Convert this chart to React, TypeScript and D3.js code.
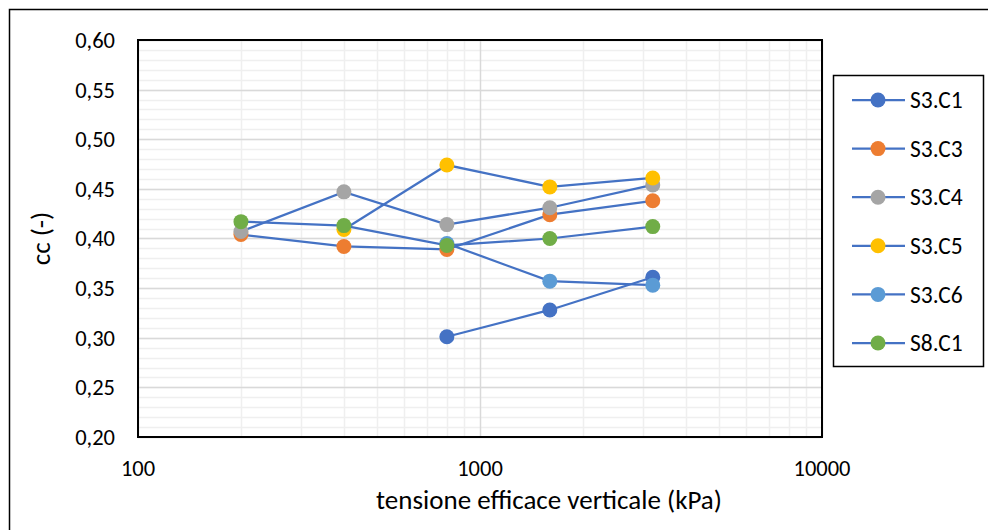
import React, { useEffect, useRef } from 'react';
import * as d3 from 'd3';

// pressure steps (kPa)
const pressures = [200, 400, 800, 1600, 3200];

const seriesNames = ['S3.C1', 'S3.C3', 'S3.C4', 'S3.C5', 'S3.C6', 'S8.C1'];
const seriesColors = ['#4472C4', '#ED7D31', '#A5A5A5', '#FFC000', '#5B9BD5', '#70AD47'];

// cc values, null where a sample has no reading
const s3c1 = [null, null, 0.301, 0.328, 0.361];
const s3c3 = [0.404, 0.392, 0.389, 0.424, 0.438];
const s3c4 = [0.407, 0.447, 0.414, 0.431, 0.454];
const s3c5 = [null, 0.409, 0.474, 0.452, 0.461];
const s3c6 = [null, null, 0.395, 0.357, 0.353];
const s8c1 = [0.417, 0.413, 0.393, 0.400, 0.412];

const yTicks = [0.2, 0.25, 0.3, 0.35, 0.4, 0.45, 0.5, 0.55, 0.6];
const xTicks = [100, 1000, 10000];

const App = () => {
  const svgRef = useRef<SVGSVGElement>(null);

  useEffect(() => {
    const width = 988;
    const height = 530;
    const margin = { left: 138, right: 166, top: 40, bottom: 93 };
    const font = 'Calibri, Carlito, Lato, "Open Sans", sans-serif';

    const svg = d3.select(svgRef.current)
      .attr('width', width)
      .attr('height', height);
    svg.selectAll('*').remove();

    svg.append('rect')
      .attr('width', width).attr('height', height).attr('fill', '#fff');
    // outer chart frame
    svg.append('rect')
      .attr('x', 9.5).attr('y', 9.5)
      .attr('width', width).attr('height', height)
      .attr('fill', 'none').attr('stroke', '#000').attr('stroke-width', 1.5);

    const x = d3.scaleLog()
      .domain([100, 10000])
      .range([margin.left, width - margin.right]);
    const y = d3.scaleLinear()
      .domain([0.2, 0.6])
      .range([height - margin.bottom, margin.top]);

    const g = svg.append('g');

    // minor grid
    const minorY = d3.range(20, 61).map(v => v / 100);
    g.selectAll('line.hminor')
      .data(minorY)
      .enter().append('line')
      .attr('x1', x(100)).attr('x2', x(10000))
      .attr('y1', d => Math.round(y(d)) + 0.5).attr('y2', d => Math.round(y(d)) + 0.5)
      .attr('stroke', '#EFEFEF').attr('stroke-width', 1.5);
    const minorX = [2, 3, 4, 5, 6, 7, 8, 9].flatMap(k => [k * 100, k * 1000]);
    g.selectAll('line.vminor')
      .data(minorX)
      .enter().append('line')
      .attr('x1', d => Math.round(x(d)) + 0.5).attr('x2', d => Math.round(x(d)) + 0.5)
      .attr('y1', y(0.2)).attr('y2', y(0.6))
      .attr('stroke', '#EFEFEF').attr('stroke-width', 1.5);

    // major grid
    g.selectAll('line.hmajor')
      .data(yTicks)
      .enter().append('line')
      .attr('x1', x(100)).attr('x2', x(10000))
      .attr('y1', d => Math.round(y(d)) + 0.5).attr('y2', d => Math.round(y(d)) + 0.5)
      .attr('stroke', '#D9D9D9').attr('stroke-width', 1.5);
    g.selectAll('line.vmajor')
      .data(xTicks)
      .enter().append('line')
      .attr('x1', d => Math.round(x(d)) + 0.5).attr('x2', d => Math.round(x(d)) + 0.5)
      .attr('y1', y(0.2)).attr('y2', y(0.6))
      .attr('stroke', '#D9D9D9').attr('stroke-width', 1.5);

    // plot frame
    g.append('rect')
      .attr('x', x(100)).attr('y', y(0.6))
      .attr('width', x(10000) - x(100)).attr('height', y(0.2) - y(0.6))
      .attr('fill', 'none').attr('stroke', '#000').attr('stroke-width', 2);

    // tick labels
    g.selectAll('text.ytick')
      .data(yTicks)
      .enter().append('text')
      .attr('x', 115)
      .attr('y', d => y(d))
      .attr('dy', '0.35em')
      .attr('text-anchor', 'end')
      .attr('font-family', font)
      .attr('font-size', 22.5)
      .attr('fill', '#000')
      .text(d => d3.format('.2f')(d).replace('.', ','));
    g.selectAll('text.xtick')
      .data(xTicks)
      .enter().append('text')
      .attr('x', d => x(d))
      .attr('y', 476)
      .attr('text-anchor', 'middle')
      .attr('font-family', font)
      .attr('font-size', 22.5)
      .attr('fill', '#000')
      .text(d => String(d));

    // axis titles
    svg.append('text')
      .attr('x', 549).attr('y', 509)
      .attr('text-anchor', 'middle')
      .attr('font-family', font).attr('font-size', 27)
      .text('tensione efficace verticale (kPa)');
    svg.append('text')
      .attr('transform', `translate(50, ${y(0.4)}) rotate(-90)`)
      .attr('text-anchor', 'middle')
      .attr('font-family', font).attr('font-size', 27)
      .text('cc (-)');

    const allSeries = [s3c1, s3c3, s3c4, s3c5, s3c6, s8c1].map((vals, i) => ({
      name: seriesNames[i],
      color: seriesColors[i],
      points: pressures
        .map((p, j) => ({ p, v: vals[j] }))
        .filter(d => d.v !== null) as { p: number; v: number }[],
    }));

    const line = d3.line<{ p: number; v: number }>()
      .x(d => x(d.p))
      .y(d => y(d.v));

    allSeries.forEach(s => {
      g.append('path')
        .datum(s.points)
        .attr('d', line)
        .attr('fill', 'none')
        .attr('stroke', '#4472C4')
        .attr('stroke-width', 2.25);
      g.selectAll(null)
        .data(s.points)
        .enter().append('circle')
        .attr('cx', d => x(d.p))
        .attr('cy', d => y(d.v))
        .attr('r', 7.5)
        .attr('fill', s.color);
    });

    // legend
    const legend = svg.append('g');
    legend.append('rect')
      .attr('x', 833.5).attr('y', 75.5)
      .attr('width', 150).attr('height', 291)
      .attr('fill', '#fff').attr('stroke', '#000').attr('stroke-width', 1.5);
    allSeries.forEach((s, i) => {
      const ly = 100 + i * 48.6;
      legend.append('line')
        .attr('x1', 852).attr('x2', 905)
        .attr('y1', ly).attr('y2', ly)
        .attr('stroke', '#4472C4').attr('stroke-width', 2.25);
      legend.append('circle')
        .attr('cx', 878).attr('cy', ly).attr('r', 7.5)
        .attr('fill', s.color);
      legend.append('text')
        .attr('x', 910).attr('y', ly)
        .attr('dy', '0.35em')
        .attr('font-family', font).attr('font-size', 23.5)
        .text(s.name);
    });
  }, []);

  return <svg ref={svgRef} style={{ position: 'absolute', left: 0, top: 0 }} />;
};

export default App;
